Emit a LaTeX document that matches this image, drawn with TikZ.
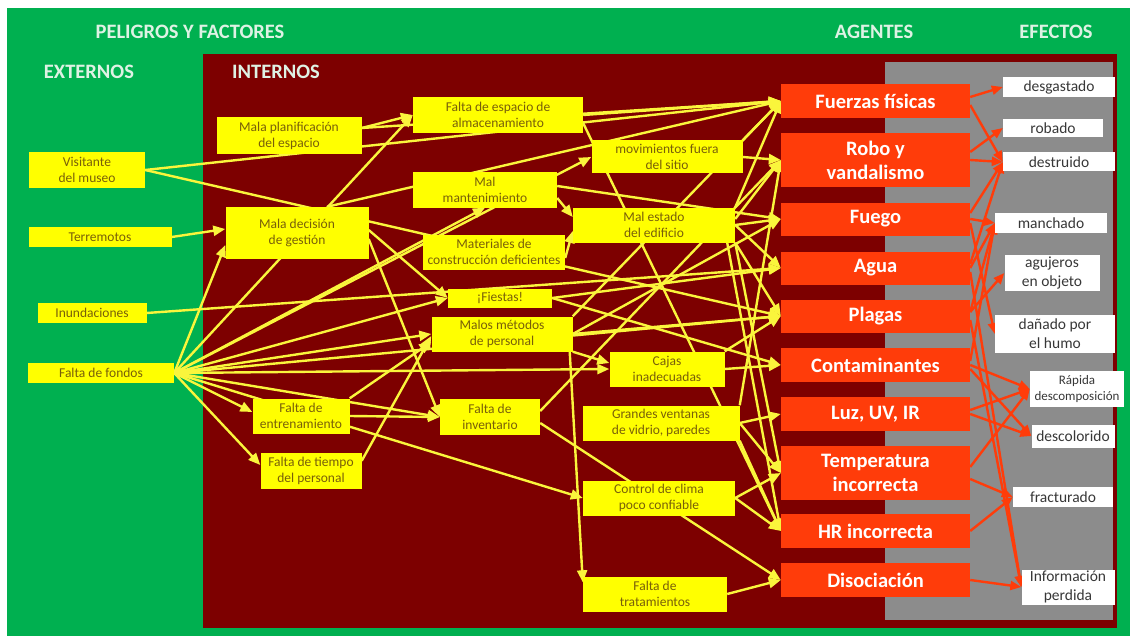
\documentclass[tikz,border=0pt]{standalone}
\usepackage{fontspec}
\setmainfont{Carlito}
\usetikzlibrary{arrows.meta}
\definecolor{bggreen}{RGB}{0,176,80}
\definecolor{panelred}{RGB}{125,0,0}
\definecolor{panelgray}{RGB}{140,140,140}
\definecolor{boxyellow}{RGB}{255,255,0}
\definecolor{linkyellow}{RGB}{250,245,60}
\definecolor{boxtext}{RGB}{120,95,10}
\definecolor{agentred}{RGB}{255,60,10}
\definecolor{headtext}{RGB}{222,242,228}
\definecolor{efftext}{RGB}{55,55,55}
\pgfdeclarelayer{back}
\pgfdeclarelayer{links}
\pgfsetlayers{back,links,main}
\tikzset{
  factor/.style={fill=boxyellow,text=boxtext,font=\fontsize{13.5}{16.5}\selectfont,align=center,inner sep=0pt},
  agent/.style={fill=agentred,text=white,font=\bfseries\fontsize{20.5}{24}\selectfont,align=center,inner sep=0pt,minimum width=189},
  effect/.style={fill=white,text=efftext,font=\fontsize{15.5}{19}\selectfont,align=center,inner sep=0pt},
  header/.style={text=headtext,font=\bfseries\fontsize{20.5}{24}\selectfont,inner sep=0pt},
  ylink/.style={draw=linkyellow,line width=2.4pt,-{Triangle[length=12pt,width=10pt]}},
  rlink/.style={draw=agentred,line width=2.4pt,-{Triangle[length=11pt,width=9pt]}},
}
\begin{document}
\begin{tikzpicture}[x=1pt,y=-1pt]
\useasboundingbox (0,0) rectangle (1134,639);

% panels
\begin{pgfonlayer}{back}
  \fill[white] (0,0) rectangle (1134,639);
  \fill[bggreen] (7,8) rectangle (1130,636);
  \fill[panelred] (203,54) rectangle (1117,628);
  \fill[panelgray] (885,62) rectangle (1113,620);
\end{pgfonlayer}

% headings
\node[header] (hpel) at (190,32) {PELIGROS Y FACTORES};
\node[header] (hext) at (89,72) {EXTERNOS};
\node[header] (hint) at (276,72) {INTERNOS};
\node[header] (hage) at (874,32) {AGENTES};
\node[header] (hefe) at (1056,32) {EFECTOS};

% external factors
\node[factor,minimum width=116,minimum height=36] (visit) at (87,170) {Visitante\\del museo};
\node[factor,minimum width=143,minimum height=20] (terre) at (100,237) {Terremotos};
\node[factor,minimum width=109,minimum height=20] (inund) at (92,313) {Inundaciones};
\node[factor,minimum width=146,minimum height=20] (fondos) at (101,373) {Falta de fondos};

% internal factors
\node[factor,minimum width=145,minimum height=37] (plan) at (289,136) {Mala planificación\\del espacio};
\node[factor,minimum width=143,minimum height=52] (mdec) at (297,233) {Mala decisión\\de gestión};
\node[factor,minimum width=97,minimum height=35] (entren) at (301,416) {Falta de\\entrenamiento};
\node[factor,minimum width=101,minimum height=36] (tiempo) at (311,471) {Falta de tiempo\\del personal};
\node[factor,minimum width=170,minimum height=36] (espacio) at (498,115) {Falta de espacio de\\almacenamiento};
\node[factor,minimum width=151,minimum height=33] (movim) at (667,157) {movimientos fuera\\del sitio};
\node[factor,minimum width=144,minimum height=35] (mant) at (485,190) {Mal\\mantenimiento};
\node[factor,minimum width=162,minimum height=35] (estado) at (654,225) {Mal estado\\del edificio};
\node[factor,minimum width=142,minimum height=35] (mater) at (494,252) {Materiales de\\construcción deficientes};
\node[factor,minimum width=104,minimum height=19] (fiestas) at (500,298) {¡Fiestas!};
\node[factor,minimum width=141,minimum height=35] (metodos) at (502,334) {Malos métodos\\de personal};
\node[factor,minimum width=115,minimum height=35] (cajas) at (667,369) {Cajas\\inadecuadas};
\node[factor,minimum width=100,minimum height=36] (invent) at (490,417) {Falta de\\inventario};
\node[factor,minimum width=157,minimum height=35] (ventanas) at (661,423) {Grandes ventanas\\de vidrio, paredes};
\node[factor,minimum width=152,minimum height=35] (clima) at (659,498) {Control de clima\\poco confiable};
\node[factor,minimum width=144,minimum height=35] (tratam) at (655,594) {Falta de\\tratamientos};

% agents
\node[agent,minimum height=34] (fuerzas) at (875.5,101) {Fuerzas físicas};
\node[agent,minimum height=54] (robo) at (875.5,160) {Robo y\\vandalismo};
\node[agent,minimum height=33] (fuego) at (875.5,219) {Fuego};
\node[agent,minimum height=33] (agua) at (875.5,268) {Agua};
\node[agent,minimum height=33] (plagas) at (875.5,316) {Plagas};
\node[agent,minimum height=34] (contam) at (875.5,365) {Contaminantes};
\node[agent,minimum height=34] (luz) at (875.5,414) {Luz, UV, IR};
\node[agent,minimum height=54] (temp) at (875.5,473) {Temperatura\\incorrecta};
\node[agent,minimum height=34] (hr) at (875.5,531) {HR incorrecta};
\node[agent,minimum height=34] (disoc) at (875.5,580) {Disociación};

% effects
\node[effect,minimum width=112,minimum height=20] (desg) at (1059,87) {desgastado};
\node[effect,minimum width=100,minimum height=18] (robado) at (1053,128) {robado};
\node[effect,minimum width=112,minimum height=19] (destr) at (1059,162) {destruido};
\node[effect,minimum width=112,minimum height=20] (manch) at (1051,223) {manchado};
\node[effect,minimum width=95,minimum height=36] (aguj) at (1052,273) {agujeros\\en objeto};
\node[effect,minimum width=120,minimum height=38] (humo) at (1055,334) {dañado por\\el humo};
\node[effect,minimum width=94,minimum height=36,font=\fontsize{13}{16}\selectfont] (rapida) at (1077,389) {Rápida\\descomposición};
\node[effect,minimum width=83,minimum height=23] (descol) at (1073,436) {descolorido};
\node[effect,minimum width=100,minimum height=20] (fract) at (1063,497) {fracturado};
\node[effect,minimum width=93,minimum height=35] (info) at (1068,587) {Información\\perdida};

\begin{pgfonlayer}{links}
% external factors to internal factors and agents
\draw[ylink] (visit.east) -- (fuerzas.west);
\draw[ylink] (visit.east) -- (plagas.west);
\draw[ylink] (terre.east) -- ([yshift=4pt]mdec.west);
\draw[ylink] (inund.east) -- (agua.west);
\draw[ylink] (fondos.east) -- ([yshift=-12pt]mdec.west);
\draw[ylink] (fondos.east) -- (espacio.west);
\draw[ylink] (fondos.east) -- (movim.west);
\draw[ylink] (fondos.east) -- (mant.south);
\draw[ylink] (fondos.east) -- (fiestas.west);
\draw[ylink] (fondos.east) -- (metodos.west);
\draw[ylink] (fondos.east) -- (plagas.west);
\draw[ylink] (fondos.east) -- (cajas.west);
\draw[ylink] (fondos.east) -- (invent.west);
\draw[ylink] (fondos.east) -- ([yshift=4pt]entren.west);
\draw[ylink] (fondos.east) -- ([yshift=6pt]tiempo.west);
\draw[ylink] (fondos.east) -- (clima.west);
% internal factors
\draw[ylink] ([yshift=8pt]plan.east) -- (espacio.west);
\draw[ylink] ([yshift=8pt]plan.east) -- (fuerzas.west);
\draw[ylink] ([xshift=30pt]mdec.north) -- (fuerzas.west);
\draw[ylink] ([yshift=3pt]mdec.east) -- (fiestas.west);
\draw[ylink] ([yshift=-6pt]mdec.east) -- (invent.west);
\draw[ylink] (entren.east) -- (invent.west);
\draw[ylink] (entren.north east) -- ([yshift=-8pt]metodos.west);
\draw[ylink] ([yshift=-8pt]tiempo.north east) -- ([yshift=-2pt]metodos.west);
\draw[ylink] (espacio.east) -- (fuerzas.west);
\draw[ylink] ([yshift=10pt]espacio.south east) -- (hr.west);
\draw[ylink] ([yshift=-8pt]mant.east) -- ([yshift=8pt]estado.west);
\draw[ylink] ([yshift=4pt]mant.east) -- (fuego.west);
\draw[ylink] ([yshift=-6pt]mater.east) -- ([yshift=-6pt]estado.west);
\draw[ylink] (movim.north east) -- (fuerzas.west);
\draw[ylink] (movim.east) -- (robo.west);
\draw[ylink] (estado.north east) -- (fuerzas.west);
\draw[ylink] ([yshift=6pt]estado.east) -- (robo.west);
\draw[ylink] (estado.east) -- (fuego.west);
\draw[ylink] (estado.east) -- (agua.west);
\draw[ylink] (estado.south east) -- (plagas.west);
\draw[ylink] (estado.south east) -- (temp.west);
\draw[ylink] ([xshift=-8pt]estado.south east) -- (hr.west);
\draw[ylink] (fiestas.east) -- (agua.west);
\draw[ylink] (fiestas.east) -- (contam.west);
\draw[ylink] (metodos.north east) -- (fuerzas.west);
\draw[ylink] (metodos.east) -- (fuego.west);
\draw[ylink] (metodos.east) -- (plagas.west);
\draw[ylink] (metodos.south east) -- ([yshift=6pt]cajas.west);
\draw[ylink] ([xshift=-3pt]metodos.south east) -- ([yshift=-6pt]tratam.north west);
\draw[ylink] ([yshift=6pt]invent.east) -- (robo.west);
\draw[ylink] ([yshift=-6pt]invent.east) -- (disoc.west);
\draw[ylink] (cajas.east) -- (contam.west);
\draw[ylink] (cajas.north east) -- (plagas.west);
\draw[ylink] (ventanas.east) -- (luz.west);
\draw[ylink] (ventanas.north east) -- (robo.west);
\draw[ylink] (ventanas.east) -- (temp.west);
\draw[ylink] (ventanas.south east) -- (hr.west);
\draw[ylink] (clima.east) -- (temp.west);
\draw[ylink] (clima.east) -- (hr.west);
\draw[ylink] (tratam.east) -- (disoc.west);
% agents to effects
\draw[rlink] ([yshift=4pt]fuerzas.east) -- (desg.west);
\draw[rlink] ([yshift=-4pt]fuerzas.east) -- (destr.west);
\draw[rlink] ([yshift=8pt]robo.east) -- (robado.west);
\draw[rlink] (robo.east) -- (destr.west);
\draw[rlink] ([yshift=6pt]fuego.east) -- (destr.west);
\draw[rlink] (fuego.east) -- (manch.west);
\draw[rlink] ([yshift=-4pt]fuego.east) -- (humo.west);
\draw[rlink] ([yshift=4pt]agua.east) -- (destr.west);
\draw[rlink] (agua.east) -- (manch.west);
\draw[rlink] ([yshift=-4pt]agua.east) -- (info.west);
\draw[rlink] ([yshift=4pt]plagas.east) -- (aguj.west);
\draw[rlink] ([yshift=4pt]plagas.east) -- (manch.west);
\draw[rlink] ([yshift=-4pt]plagas.east) -- (info.west);
\draw[rlink] ([yshift=4pt]contam.east) -- (manch.west);
\draw[rlink] (contam.east) -- (rapida.west);
\draw[rlink] ([yshift=-4pt]contam.east) -- (descol.west);
\draw[rlink] (luz.east) -- (descol.west);
\draw[rlink] ([yshift=4pt]luz.east) -- (rapida.west);
\draw[rlink] ([yshift=6pt]temp.east) -- (rapida.west);
\draw[rlink] ([yshift=-6pt]temp.east) -- (fract.west);
\draw[rlink] (hr.east) -- (fract.west);
\draw[rlink] (disoc.east) -- (info.west);
\end{pgfonlayer}
\end{tikzpicture}
\end{document}
